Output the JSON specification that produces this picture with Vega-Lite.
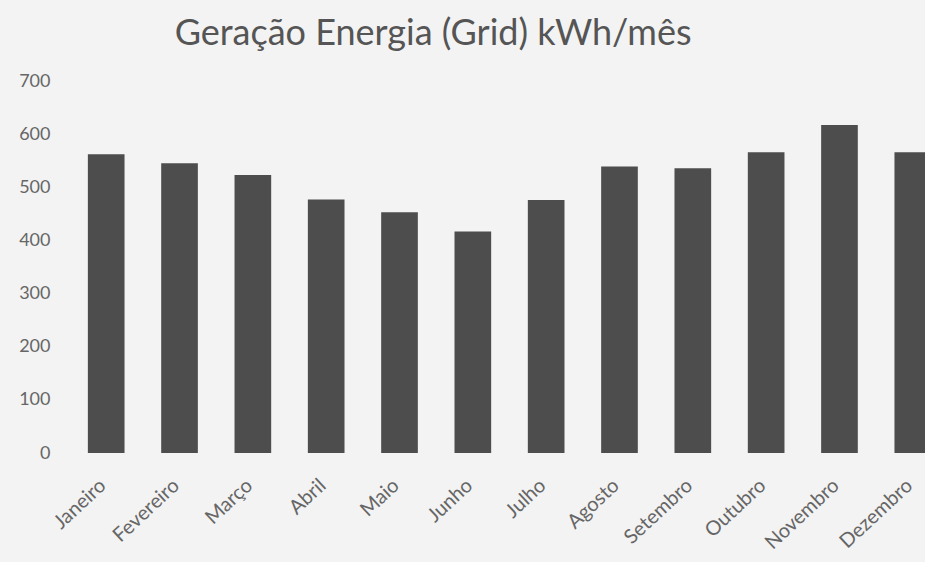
{
  "$schema": "https://vega.github.io/schema/vega-lite/v6.json",
  "autosize": "none",
  "width": 899,
  "height": 372,
  "padding": {"left": 60, "top": 81, "right": 0, "bottom": 109},
  "background": "#f3f3f3",
  "title": {
    "text": "Geração Energia (Grid) kWh/mês",
    "anchor": "start",
    "dx": 156,
    "offset": 19,
    "font": "Lato",
    "fontSize": 36,
    "fontWeight": "normal",
    "color": "#555555"
  },
  "data": {
    "values": [
      {"mes": "Janeiro", "kwh": 562},
      {"mes": "Fevereiro", "kwh": 545},
      {"mes": "Março", "kwh": 523},
      {"mes": "Abril", "kwh": 477},
      {"mes": "Maio", "kwh": 453},
      {"mes": "Junho", "kwh": 417},
      {"mes": "Julho", "kwh": 476},
      {"mes": "Agosto", "kwh": 539},
      {"mes": "Setembro", "kwh": 536},
      {"mes": "Outubro", "kwh": 566},
      {"mes": "Novembro", "kwh": 617},
      {"mes": "Dezembro", "kwh": 566}
    ]
  },
  "mark": {"type": "bar", "color": "#4d4d4d"},
  "encoding": {
    "x": {
      "field": "mes",
      "type": "nominal",
      "sort": null,
      "scale": {"paddingInner": 0.5, "paddingOuter": 0.38},
      "axis": {
        "title": null,
        "labelAngle": -43,
        "labelFont": "Lato",
        "labelFontSize": 20,
        "labelColor": "#666666",
        "domain": false,
        "ticks": false,
        "labelPadding": 22,
        "labelOffset": -10
      }
    },
    "y": {
      "field": "kwh",
      "type": "quantitative",
      "scale": {"domain": [0, 700]},
      "axis": {
        "title": null,
        "values": [0, 100, 200, 300, 400, 500, 600, 700],
        "grid": false,
        "domain": false,
        "ticks": false,
        "labelFont": "Lato",
        "labelFontSize": 18,
        "labelColor": "#666666",
        "labelPadding": 10
      }
    }
  },
  "config": {"view": {"stroke": null}}
}
